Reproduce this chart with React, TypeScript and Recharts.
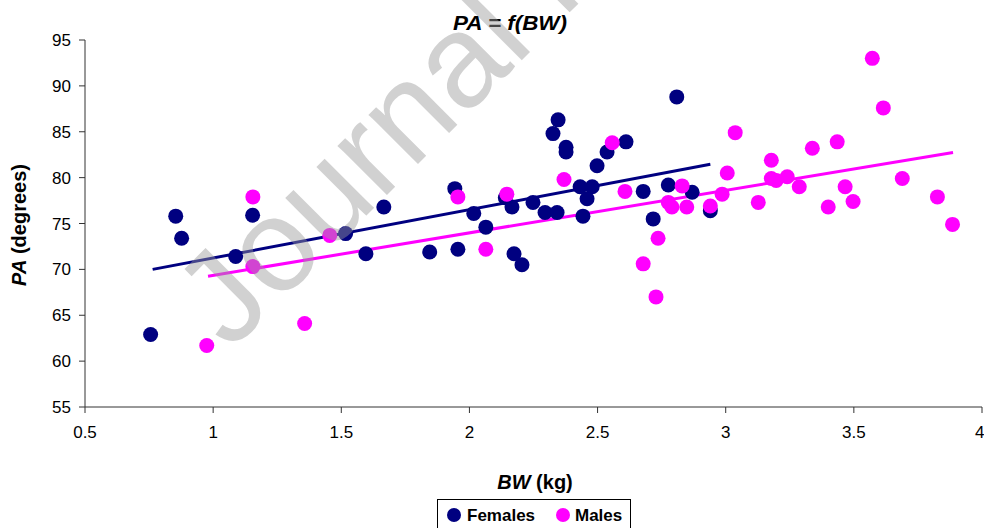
import React from "react";
import {
  ScatterChart,
  Scatter,
  XAxis,
  YAxis,
  ReferenceLine,
} from "recharts";

// body weight (kg) / pelvic angle (degrees)
const femalesBW = [
  0.756, 0.854, 0.877, 1.088, 1.154, 1.517, 1.596, 1.666, 1.845, 1.943, 1.955,
  2.017, 2.064, 2.14, 2.166, 2.174, 2.205, 2.248, 2.295, 2.342, 2.326, 2.346,
  2.377, 2.377, 2.432, 2.479, 2.459, 2.443, 2.498, 2.537, 2.611, 2.678, 2.717,
  2.809, 2.776, 2.869, 2.94,
];
const femalesPA = [
  62.9, 75.8, 73.4, 71.4, 75.9, 73.9, 71.7, 76.8, 71.9, 78.8, 72.2, 76.1, 74.6,
  77.8, 76.8, 71.7, 70.5, 77.3, 76.2, 76.2, 84.8, 86.3, 83.3, 82.8, 79.0, 79.0,
  77.7, 75.8, 81.3, 82.8, 83.9, 78.5, 75.5, 88.8, 79.2, 78.4, 76.4,
];
const malesBW = [
  0.975, 1.155, 1.155, 1.357, 1.455, 1.955, 2.064, 2.146, 2.369, 2.557, 2.607,
  2.678, 2.728, 2.736, 2.776, 2.79, 2.83, 2.848, 2.94, 2.986, 3.006, 3.037,
  3.127, 3.178, 3.178, 3.197, 3.24, 3.287, 3.338, 3.4, 3.435, 3.466, 3.497,
  3.572, 3.615, 3.689, 3.826, 3.885,
];
const malesPA = [
  61.7, 77.9, 70.3, 64.1, 73.7, 77.9, 72.2, 78.2, 79.8, 83.8, 78.5, 70.6, 67.0,
  73.4, 77.3, 76.8, 79.1, 76.8, 76.9, 78.2, 80.5, 84.9, 77.3, 81.9, 79.9, 79.7,
  80.1, 79.0, 83.2, 76.8, 83.9, 79.0, 77.4, 93.0, 87.6, 79.9, 77.9, 74.9,
];

// linear trend line end points
const femalesTrend = [
  { x: 0.764, y: 70.0 },
  { x: 2.94, y: 81.45 },
];
const malesTrend = [
  { x: 0.98, y: 69.25 },
  { x: 3.887, y: 82.73 },
];

const xTicks = [0.5, 1, 1.5, 2, 2.5, 3, 3.5, 4];
const yTicks = [55, 60, 65, 70, 75, 80, 85, 90, 95];

const FEMALE = "#000080";
const MALE = "#ff00ff";
const FONT = '"Liberation Sans", Arial, sans-serif';

const females = femalesBW.map((x, i) => ({ x, y: femalesPA[i] }));
const males = malesBW.map((x, i) => ({ x, y: malesPA[i] }));

const dot = (color: string) => (p: any) =>
  <circle cx={p.cx} cy={p.cy} r={7.5} fill={color} />;

export default function App() {
  const tick = { fill: "#000", fontSize: 17, fontFamily: FONT };
  return (
    <div
      style={{
        position: "absolute",
        left: 0,
        top: 0,
        width: 984,
        height: 528,
        background: "#fff",
        overflow: "hidden",
        fontFamily: FONT,
      }}
    >
      <ScatterChart
        width={984}
        height={528}
        margin={{ top: 40, right: 2, bottom: 81, left: 25 }}
      >
        <XAxis
          type="number"
          dataKey="x"
          domain={[0.5, 4]}
          ticks={xTicks}
          height={40}
          tick={tick}
          tickSize={6}
          tickMargin={13}
          stroke="#333"
          allowDataOverflow
        />
        <YAxis
          type="number"
          dataKey="y"
          domain={[55, 95]}
          ticks={yTicks}
          width={60}
          tick={tick}
          tickSize={6}
          tickMargin={8}
          stroke="#333"
          allowDataOverflow
        />
        <Scatter
          name="Females"
          data={females}
          fill={FEMALE}
          shape={dot(FEMALE)}
          isAnimationActive={false}
        />
        <Scatter
          name="Males"
          data={males}
          fill={MALE}
          shape={dot(MALE)}
          isAnimationActive={false}
        />
        <ReferenceLine
          segment={femalesTrend}
          stroke={FEMALE}
          strokeWidth={3}
        />
        <ReferenceLine segment={malesTrend} stroke={MALE} strokeWidth={3} />
      </ScatterChart>

      <svg
        width={984}
        height={528}
        style={{ position: "absolute", left: 0, top: 0, pointerEvents: "none" }}
      >
        <text
          x={453}
          y={30}
          textLength={114}
          lengthAdjust="spacingAndGlyphs"
          fontSize={19.5}
          fontWeight="bold"
          fontStyle="italic"
          fontFamily={FONT}
        >
          PA = f(BW)
        </text>
        <text
          transform="translate(26,225) rotate(-90)"
          textAnchor="middle"
          fontSize={20}
          fontWeight="bold"
          fontFamily={FONT}
        >
          <tspan fontStyle="italic">PA</tspan> (degrees)
        </text>
        <text
          x={535}
          y={489}
          textAnchor="middle"
          fontSize={20}
          fontWeight="bold"
          fontFamily={FONT}
        >
          <tspan fontStyle="italic">BW</tspan> (kg)
        </text>

        {/* legend */}
        <rect x={437.5} y={499.5} width={193} height={40} fill="#fff" stroke="#000" />
        <circle cx={454} cy={515} r={7} fill={FEMALE} />
        <text x={467} y={521} fontSize={17} fontWeight="bold" fontFamily={FONT}>
          Females
        </text>
        <circle cx={563} cy={515} r={7} fill={MALE} />
        <text x={575} y={521} fontSize={17} fontWeight="bold" fontFamily={FONT}>
          Males
        </text>

        {/* watermark */}
        <text
          x={230}
          y={352}
          transform="rotate(-45 230 352)"
          fontSize={132}
          fill="#999"
          fillOpacity={0.45}
          fontFamily={FONT}
        >
          Journal Pre-proof
        </text>
      </svg>
    </div>
  );
}
